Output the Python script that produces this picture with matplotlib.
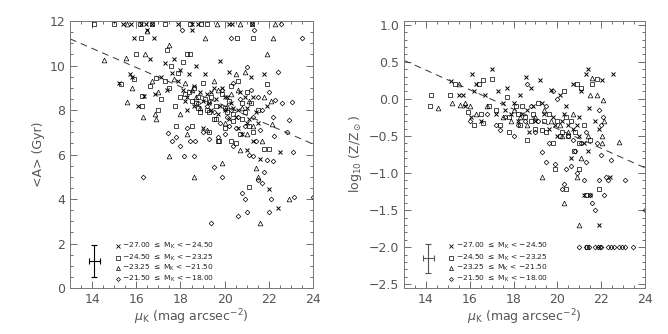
import numpy as np
import matplotlib.pyplot as plt
from matplotlib.ticker import MultipleLocator

# ---- data ----
# left panel: mean age <A> (Gyr) vs mu_K
age_cross = [(15.4,11.85),(15.75,11.85),(16.2,11.85),(16.45,11.85),(16.7,11.85),(17.9,11.85),(18.5,11.85),
             (18.8,11.85),(20.2,11.85),(20.35,11.85),(21.25,11.85),(16.5,11.6),(18.5,11.6),(15.9,11.25),(16.8,11.25),
             (15.2,9.2),(15.8,9.5),(15.7,9.6),(16.1,8.2),(16.35,8.65),(16.6,10.3),(16.85,8.7),(17.1,9.5),(17.3,10.1),
             (17.7,10.3),(17.6,9.65),(17.9,9.3),(18.0,9.8),(18.2,8.4),(18.4,9.6),(18.6,9.1),(18.7,10.0),(18.9,8.8),
             (19.1,9.6),(19.3,8.3),(19.5,9.0),(19.8,10.2),(19.6,8.5),(20.0,8.0),(20.2,9.7),(20.3,8.3),(20.5,7.7),
             (20.7,8.8),(20.9,8.6),(21.0,6.2),(21.1,7.6),(21.3,6.6),(21.2,9.5),(21.4,7.9),(21.6,5.8),(21.8,9.6),
             (21.9,8.2),(22.0,4.45),(22.4,3.6),(22.5,6.1),(19.0,7.2),(19.7,7.8),(20.6,7.2),(20.8,6.9),(18.3,8.0),
             (17.4,8.9),(19.9,9.0),(21.5,7.4),(18.1,8.9),(19.2,8.7),(20.1,8.6),(20.4,8.1),(21.0,8.1),(19.4,8.0),
             (18.3,8.6),(18.6,8.2),(19.0,8.4),(19.4,8.8),(19.8,8.2),(20.2,7.6),(20.6,8.0),(21.0,7.4),(21.3,8.6),
             (20.0,8.6)]
age_square = [(14.1,11.85),(15.0,11.85),(16.15,11.85),(16.7,11.85),(17.3,11.85),(18.45,11.85),(18.95,11.85),
              (19.2,11.85),(21.25,11.85),(16.2,11.25),(20.55,11.25),(21.3,11.25),(16.0,10.5),(17.4,10.7),(18.3,10.5),
              (18.45,10.5),(17.55,10.0),(18.1,10.15),(15.9,9.4),(15.3,9.15),(16.25,8.65),(16.25,8.2),(16.9,9.45),
              (17.0,8.0),(17.3,9.3),(17.5,9.0),(17.75,8.2),(17.8,7.3),(17.9,9.65),(18.2,8.7),(18.5,8.4),(18.6,9.0),
              (18.8,8.6),(19.0,9.2),(19.1,8.5),(19.3,7.9),(19.3,7.0),(19.6,8.2),(19.75,6.6),(19.9,8.7),(20.1,7.9),
              (20.3,9.1),(20.5,6.5),(20.6,9.3),(20.8,7.6),(21.0,8.8),(21.1,4.55),(21.3,7.0),(21.5,8.0),(21.8,6.25),
              (21.9,9.15),(22.0,6.25),(18.5,7.3),(19.5,7.6),(20.0,7.2),(20.9,7.9),(16.6,9.1),(17.1,8.5),(18.9,7.9),
              (20.2,8.4),(20.7,6.9),(18.7,8.3),(19.4,8.6),(20.4,7.8),(21.2,8.3),(18.0,8.6),
              (18.4,8.8),(18.8,8.1),(19.2,8.0),(19.6,7.6),(20.0,8.1),(20.4,7.5),(20.8,8.3),(21.1,7.3),(20.3,6.6),
              (19.7,6.6)]
age_triangle = [(15.6,11.85),(19.65,11.85),(20.7,11.85),(22.3,11.85),(16.5,11.55),(19.1,11.25),(22.2,11.25),
                (14.55,10.25),(15.55,10.35),(16.4,10.5),(17.5,10.9),(21.9,10.5),(15.6,8.35),(15.8,9.0),(16.3,7.7),
                (16.7,9.3),(16.9,7.6),(16.85,7.8),(17.0,8.8),(17.5,5.95),(18.0,7.8),(18.2,9.2),(18.6,5.0),(18.5,8.9),
                (18.9,8.1),(19.2,7.1),(19.5,9.3),(19.9,5.6),(20.1,8.2),(20.5,9.6),(20.7,6.2),(20.9,9.7),(21.0,6.9),
                (21.3,7.3),(21.4,5.4),(21.6,2.9),(21.7,6.6),(21.8,8.6),(22.15,7.35),(22.9,4.0),(18.3,6.9),(17.7,9.4),
                (19.7,8.9),(20.3,8.7),(21.5,5.0),(20.8,8.1),(22.1,8.4),
                (18.7,8.6),(19.3,8.4),(20.0,7.4),(20.6,8.9),(21.1,8.4)]
age_diamond = [(22.55,11.85),(18.05,11.6),(21.35,11.6),(20.3,11.25),(23.5,11.25),(16.3,5.0),(17.45,6.95),
               (17.6,6.6),(17.8,6.8),(18.0,6.4),(18.15,5.95),(18.3,7.2),(18.45,6.6),(18.65,6.6),(18.6,5.95),
               (19.0,7.0),(19.3,6.7),(19.4,2.9),(19.5,5.45),(19.7,6.8),(19.9,5.0),(20.0,6.9),(20.2,7.3),(20.4,6.4),
               (20.6,3.25),(20.8,4.25),(20.9,4.0),(21.0,3.4),(21.1,6.0),(21.3,5.95),(21.4,6.6),(21.5,4.85),(21.7,4.7),
               (21.8,5.2),(21.9,5.75),(22.0,3.4),(22.1,4.0),(22.2,5.7),(22.25,6.85),(22.3,8.45),(22.4,9.7),(22.6,8.3),
               (22.8,7.0),(22.9,7.55),(23.05,8.35),(23.1,6.1),(23.15,4.1),(24.0,4.1),(21.0,9.95),(20.4,9.2),(19.9,8.9),
               (20.7,8.5),(21.2,8.9),(20.6,7.7),(19.5,7.9),(21.6,7.1),(22.0,8.8),(22.2,7.7),(20.1,7.7),(19.2,8.2),
               (18.8,8.3),(21.7,8.0),
               (20.3,8.0),(20.9,7.3),(21.3,7.7),(20.5,7.2),(19.8,7.4),(21.5,8.6)]

# right panel: log10(Z/Zsun) vs mu_K
met_cross = [(15.15,0.24),(15.5,0.05),(15.7,0.05),(16.1,0.33),(16.05,-0.25),(16.2,0.1),(16.3,0.2),(16.7,0.05),
             (17.0,0.4),(17.3,0.1),(17.5,-0.05),(17.7,0.15),(18.0,-0.05),(18.3,0.05),(18.55,0.3),(18.8,0.15),
             (19.2,0.25),(19.3,-0.05),(19.7,0.12),(20.1,0.05),(20.4,-0.1),(20.6,-0.8),(20.7,0.2),(21.1,0.1),
             (21.4,0.4),(21.3,0.33),(21.45,-0.12),(21.2,-0.6),(21.4,-0.7),(21.9,-0.4),(22.05,0.25),(22.55,0.33),
             (21.9,-1.7),(22.4,-1.05),(21.5,-1.3),(19.0,-0.3),(18.4,-0.2),(19.6,-0.4),(20.0,-0.5),(20.9,-0.35),
             (21.7,-0.3),(17.2,-0.2),(15.8,-0.1),(16.5,-0.3),(20.3,-0.2),(18.7,-0.45),(21.2,-1.3),(21.0,-0.5),
             (18.9,-0.1),(19.8,-0.25),(20.5,-0.35),(17.9,-0.2),
             (18.2,-0.3),(18.6,-0.15),(19.4,-0.2),(19.9,-0.35),(20.2,-0.3),(20.7,-0.4),(21.0,-0.25),(17.6,-0.15)]
met_square = [(14.25,0.05),(14.2,-0.1),(15.1,0.05),(15.35,0.2),(15.9,-0.18),(16.2,-0.35),(16.4,0.2),(16.6,0.25),
              (16.6,-0.32),(16.9,-0.1),(17.0,0.27),(17.4,-0.35),(17.7,0.03),(17.8,-0.45),(18.1,-0.1),(18.3,-0.35),
              (18.6,-0.55),(18.9,-0.2),(19.1,-0.05),(19.3,-0.42),(19.6,-0.2),(19.9,-0.95),(20.0,-0.3),(20.3,0.1),
              (20.4,-1.22),(20.5,-0.5),(20.75,-0.7),(20.9,0.2),(21.0,-0.95),(21.1,0.15),(21.3,-1.3),(21.35,-2.0),
              (21.6,0.2),(21.8,0.27),(21.9,-1.22),(21.5,-0.55),(19.4,-0.3),(18.5,-0.25),(20.2,-0.45),(17.2,-0.15),
              (21.2,-0.35),(19.8,-0.6),(20.6,-0.3),(19.0,-0.4),(18.2,-0.2),
              (18.4,-0.1),(18.8,-0.3),(19.5,-0.45),(20.1,-0.5),(20.4,-0.25),(20.8,-0.45),(17.8,-0.25),(16.5,-0.2),
              (21.0,-0.6)]
met_triangle = [(14.55,-0.12),(15.5,0.2),(15.55,-0.08),(15.8,-0.05),(16.0,-0.1),(17.9,-0.3),(18.3,-0.25),
                (19.3,-1.05),(20.3,-1.4),(20.7,-0.2),(20.9,-1.05),(21.0,-1.7),(21.6,0.28),(21.8,0.05),(22.05,-0.5),
                (22.1,-0.02),(22.15,-0.3),(22.05,-0.6),(22.8,-0.58),(16.3,-0.2),(17.5,-0.25),(18.0,-0.15),(19.0,-0.25),
                (20.1,-0.35),(21.4,-0.5),(21.5,0.05),(15.2,-0.05),(19.7,-0.3),(20.5,-0.45),(21.1,-0.8),
                (18.6,-0.35),(19.4,-0.15),(20.2,-0.5),(16.8,-0.1)]
met_diamond = [(17.4,-0.42),(18.0,-0.5),(18.5,-0.3),(18.6,0.2),(19.0,-0.45),(19.3,-0.72),(19.5,-0.85),(19.6,-0.6),
               (19.9,-0.88),(20.2,-1.22),(20.3,-1.15),(20.4,-0.95),(20.6,-0.9),(20.7,-0.55),(20.9,-1.0),(21.1,-0.6),
               (21.2,-1.1),(21.3,-0.85),(21.5,-1.3),(21.6,-1.4),(21.7,-1.5),(21.8,-0.6),(21.9,-1.1),(22.0,-0.35),
               (22.1,-0.25),(22.2,-1.05),(22.3,-1.1),(22.15,-1.3),(22.45,-0.82),(23.1,-1.1),(24.0,-1.5),(22.0,-0.75),
               (21.9,-0.15),(20.0,0.0),(19.5,-0.1),(19.8,0.1),(18.8,-0.1),(17.6,-0.25),(16.8,-0.2),(16.0,-0.3),
               (21.0,-2.0),(21.3,-2.0),(21.45,-2.0),(21.7,-2.0),(21.85,-2.0),(22.0,-2.0),(22.3,-2.0),(22.45,-2.0),
               (22.6,-2.0),(22.8,-2.0),(22.95,-2.0),(23.1,-2.0),(23.45,-2.0),(21.95,-2.0),
               (19.1,-0.3),(20.5,-0.5),(21.3,-0.45),(20.8,-0.7),(18.2,-0.35),(17.2,-0.35)]

# dashed fits (end points)
fit_x = [13, 24]
age_fit = [11.2, 6.47]
met_fit = [0.52, -0.93]

# typical error bars
age_err = (14.1, 1.2, 0.25, 0.72)
met_err = (14.1, -2.15, 0.25, 0.2)

legend_labels = [r'$-$27.00 $\leq$ M$_{\rm K}$ < $-$24.50',
                 r'$-$24.50 $\leq$ M$_{\rm K}$ < $-$23.25',
                 r'$-$23.25 $\leq$ M$_{\rm K}$ < $-$21.50',
                 r'$-$21.50 $\leq$ M$_{\rm K}$ < $-$18.00']
markers = ['x', 's', '^', 'D']
msizes = [3.2, 3.2, 3.4, 2.4]

plt.rcParams['font.family'] = ['DejaVu Sans']
plt.rcParams['mathtext.fontset'] = 'dejavusans'
gray = '#555555'

fig = plt.figure(figsize=(6.68, 3.34), dpi=100)
ax1 = fig.add_axes([0.1048, 0.1377, 0.3638, 0.7994])
ax2 = fig.add_axes([0.6048, 0.1377, 0.3608, 0.7994])


def draw(ax, groups, fit, err, ylim, ymajor, yminor, ylabel, errcolor):
    for pts, m, s in zip(groups, markers, msizes):
        arr = np.array(pts)
        if m == 'x':
            ax.plot(arr[:, 0], arr[:, 1], ls='none', marker=m, ms=s, mew=0.7, color='black')
        else:
            ax.plot(arr[:, 0], arr[:, 1], ls='none', marker=m, ms=s, mew=0.5,
                    mfc='none', mec='black')
    ax.plot(fit_x, fit, ls=(0, (7, 5)), color='#333333', lw=0.7)
    ax.errorbar(err[0], err[1], xerr=err[2], yerr=err[3], color=errcolor, lw=0.8,
                capsize=2.5, capthick=0.8)
    ax.set_xlim(13, 24)
    ax.set_ylim(*ylim)
    ax.xaxis.set_major_locator(MultipleLocator(2))
    ax.xaxis.set_minor_locator(MultipleLocator(0.5))
    ax.yaxis.set_major_locator(MultipleLocator(ymajor))
    ax.yaxis.set_minor_locator(MultipleLocator(yminor))
    ax.tick_params(which='both', direction='in', top=True, right=True, colors=gray,
                   labelcolor=gray, labelsize=9, width=0.6)
    ax.tick_params(which='major', length=5)
    ax.tick_params(which='minor', length=2.5)
    for sp in ax.spines.values():
        sp.set_color('#777777')
        sp.set_linewidth(0.7)
    ax.set_xlabel(r'$\mu_{\rm K}$ (mag arcsec$^{-2}$)', color=gray, fontsize=9, labelpad=1)
    ax.set_ylabel(ylabel, color=gray, fontsize=9, labelpad=3)
    # legend drawn as text rows
    rows = [0.156, 0.114, 0.074, 0.034]
    for m, s, lab, yy in zip(markers, msizes, legend_labels, rows):
        if m == 'x':
            ax.plot([0.197], [yy], transform=ax.transAxes, marker=m, ms=s * 0.85, mew=0.6,
                    color='black', ls='none')
        else:
            ax.plot([0.197], [yy], transform=ax.transAxes, marker=m, ms=s * 0.85, mew=0.5,
                    mfc='none', mec='black', ls='none')
        ax.text(0.215, yy, lab, transform=ax.transAxes, fontsize=5.4, va='center',
                color='#222222')


draw(ax1, [age_cross, age_square, age_triangle, age_diamond], age_fit, age_err,
     (0, 12), 2, 0.5, '<A> (Gyr)', 'black')
draw(ax2, [met_cross, met_square, met_triangle, met_diamond], met_fit, met_err,
     (-2.55, 1.05), 0.5, 0.1, r'log$_{10}$ (Z/Z$_\odot$)', gray)

fig.savefig('out.png', dpi=100)
